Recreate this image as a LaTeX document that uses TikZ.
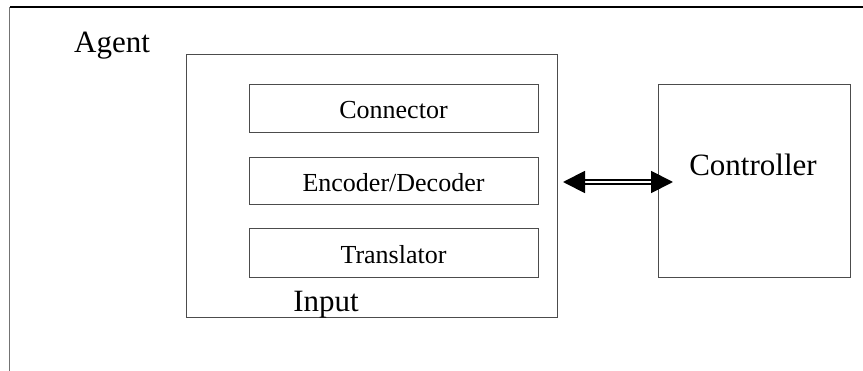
\documentclass[tikz,border=0pt]{standalone}
\usepackage{fontspec}
\setmainfont{Liberation Serif}
\usetikzlibrary{arrows.meta}
\begin{document}
\begin{tikzpicture}[x=1pt,y=-1pt,
  boxline/.style={draw=black!70, line width=1pt},
  bigbox/.style={boxline, rectangle, inner sep=0pt},
  subbox/.style={boxline, rectangle, minimum width=289pt, inner sep=0pt,
    font=\fontsize{26}{30}\selectfont, text height=19.5pt, text depth=0pt},
  bigtext/.style={font=\fontsize{31}{36}\selectfont, inner sep=0pt, anchor=base},
  dblarrow/.style={double, double distance=2.2pt, line width=1.9pt,
    {Triangle[length=22pt,width=22pt]}-{Triangle[length=22pt,width=22pt]}},
]
\useasboundingbox (0,0) rectangle (863,371);
% outer frame (partial)
\coordinate (tr) at (863,7);
\coordinate (tl) at (9.5,7);
\coordinate (bl) at (9.5,371);
\draw[black, line width=1.1pt] (tr) -- (tl);
\draw[black!55, line width=1.5pt] (tl) -- (bl);
\node[bigtext] (agent) at (112,53) {Agent};
% input box
\node[bigbox, minimum width=371pt, minimum height=263pt] (input) at (371.5,186.5) {};
\node[subbox, minimum height=48pt] (conn) at (393.5,109) {Connector};
\node[subbox, minimum height=47pt] (enc) at (393.5,181.5) {Encoder/Decoder};
\node[subbox, minimum height=49pt] (trans) at (393.5,253.5) {Translator};
\node[bigtext] (inputtext) at (326,312) {Input};
% controller
\node[bigbox, minimum width=192pt, minimum height=193pt] (ctrl) at (754,181.5) {};
\node[bigtext] (ctrltext) at (753,176) {Controller};
% arrow
\coordinate (al) at (563,182);
\coordinate (ar) at (673,182);
\draw[dblarrow] (al) -- (ar);
\end{tikzpicture}
\end{document}
